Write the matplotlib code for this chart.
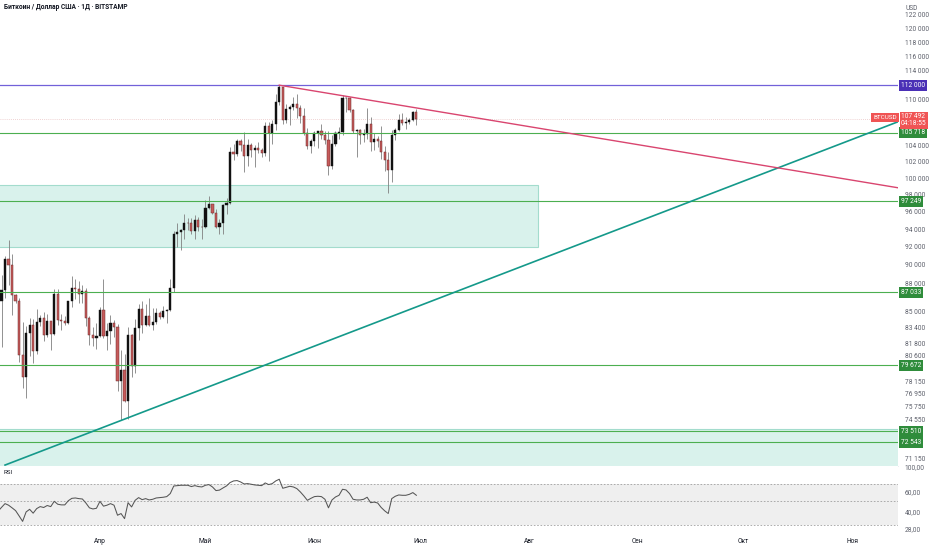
import numpy as np
import pandas as pd
import matplotlib
matplotlib.use("Agg")
import matplotlib.pyplot as plt
import matplotlib.dates as mdates
from matplotlib.ticker import FixedLocator, FuncFormatter, NullLocator
from matplotlib.transforms import blended_transform_factory
from matplotlib.patches import Rectangle

plt.rcParams['font.family'] = ['Roboto', 'DejaVu Sans']

# daily candles, BITSTAMP BTCUSD, 3 Mar .. 30 Jun
dates = pd.date_range('2025-03-03', '2025-06-30', freq='D')

closes = [
    86100, 87250, 90600, 89950, 86750, 86150, 80700, 78550, 82900, 83700,
    81100, 83950, 84350, 82600, 84050, 82700, 86850, 84200, 84050, 83850,
    86100, 87500, 87450, 86900, 87200, 84350, 82600, 82350, 82550,
    85150, 82500, 83100, 83850, 83500, 78200, 79200, 76300, 82600, 79600,
    83400, 85300, 83700, 84550, 83650, 84000, 84900, 84450, 85050, 85150,
    87500, 93450, 93700, 93950, 94700, 94650, 93750, 95000, 94250, 94200,
    96500, 96900, 95900, 94300, 94750, 96850, 97050, 103250, 102950, 104650,
    104100, 102800, 104150, 103550, 103750, 103500, 103150, 106500, 105650, 106850,
    109650, 111700, 107300, 108850, 109000, 109450, 108950, 107800, 105650, 103950,
    104600,
    105700, 105850, 105400, 104700, 101550, 104300, 105650, 105750, 110250, 110300,
    108650, 105950, 106100, 105450, 105550, 106800, 104550, 104850, 104650, 103300,
    102200, 100950, 105400, 106000, 107350, 106950, 107100, 107300, 108350, 107492,
]
opens = [94250] + closes[:-1]
highs = [
    94400, 88900, 91000, 92800, 91200, 86850, 86500, 84000, 83600, 84350,
    84300, 85300, 84650, 85000, 84750, 84050, 87450, 87450, 84800, 84550,
    86100, 88750, 88500, 88300, 87800, 87500, 84600, 83500, 83900,
    85500, 88500, 83900, 84700, 84200, 83800, 81200, 80800, 83500, 82700,
    84250, 85800, 86100, 85800, 86450, 85450, 85450, 85100, 85600, 85300,
    88450, 93800, 94700, 94000, 95750, 95300, 95300, 95600, 95450, 95200,
    97400, 97900, 96900, 96300, 95200, 96900, 97600, 103900, 104300, 104950,
    104950, 105800, 104950, 104350, 104150, 104550, 103700, 107100, 107100, 107300,
    110800, 111950, 111800, 109500, 109300, 110400, 110750, 109300, 108900, 106300,
    104900,
    105850, 105950, 106800, 105950, 105900, 105400, 105900, 106450, 110600, 110400,
    110400, 108850, 106200, 106200, 106150, 108950, 107700, 105600, 105300, 106500,
    104000, 103300, 106100, 106250, 108100, 108250, 107700, 107550, 108500, 108800,
]
lows = [
    85100, 81500, 86400, 87800, 84700, 85900, 80000, 77500, 76600, 80600,
    79900, 80800, 83600, 82000, 82450, 81150, 82650, 83650, 83200, 83650,
    83800, 85550, 86350, 85900, 85900, 83600, 81650, 81550, 81300,
    82450, 82300, 81200, 81700, 82400, 77200, 74500, 76200, 74650, 78500,
    78950, 82100, 82900, 83600, 83600, 83150, 83800, 84300, 84400, 83900,
    85100, 87100, 91950, 91700, 92900, 93900, 93500, 92900, 93750, 92900,
    94100, 96300, 95750, 94100, 93500, 93400, 95800, 96900, 102300, 102800,
    103400, 100800, 101450, 102650, 101400, 103100, 102600, 102700, 102100, 104200,
    106100, 109300, 106850, 106950, 106650, 108700, 107600, 106900, 105400, 103650,
    103150,
    103950, 103750, 104950, 104200, 100400, 101150, 103950, 104950, 105350, 108350,
    108400, 105650, 102650, 104300, 104500, 104950, 103400, 103550, 103900, 102350,
    100900, 98200, 99600, 104700, 105950, 106700, 106200, 106850, 107250, 106750,
]
rsi = [
    40.0, 43.4, 46.9, 45.4, 43.0, 40.6, 36.4, 32.5, 39.5, 41.7,
    38.5, 42.3, 44.1, 43.3, 45.1, 44.1, 49.2, 46.3, 45.7, 45.7,
    49.8, 52.3, 52.7, 52.0, 51.6, 47.5, 43.0, 42.0, 42.6,
    49.2, 44.5, 45.4, 46.9, 45.4, 36.9, 38.2, 34.4, 47.8, 43.8,
    50.2, 53.1, 50.9, 52.0, 50.6, 51.3, 52.7, 53.1, 53.5, 54.2,
    57.7, 67.5, 68.0, 68.5, 68.5, 68.5, 66.7, 68.0, 66.7, 66.2,
    68.5, 69.5, 66.2, 61.4, 62.0, 64.8, 67.6, 72.4, 74.9, 75.5,
    73.4, 70.4, 70.9, 70.0, 69.0, 68.5, 68.0, 71.9, 69.5, 70.9,
    74.9, 77.6, 64.4, 65.7, 67.1, 66.2, 64.0, 59.7, 55.0, 50.2,
    52.3,
    54.2, 54.6, 54.2, 51.3, 43.0, 50.6, 53.8, 55.7, 63.1, 62.2,
    57.7, 51.3, 50.6, 50.6, 51.3, 53.5, 47.8, 48.4, 47.5, 43.3,
    40.4, 38.2, 52.0, 54.6, 56.1, 55.7, 55.7, 56.8, 58.9, 55.7,
]

# horizontal levels
green_levels = [105718, 97249, 87033, 79672, 73510, 72543]
purple_level = 112000
last_price = 107492
timer_text = '04:18:55'

price_ticks = [122000, 120000, 118000, 116000, 114000, 110000, 104000,
               102000, 100000, 98000, 96000, 94000, 92000, 90000, 88000,
               85000, 83400, 81800, 80600, 78150, 76950, 75750, 74550, 71150]
rsi_ticks = [100, 60, 40, 28]
rsi_tick_labels = ['100,00', '60,00', '40,00', '28,00']
month_dates = ['2025-04-01', '2025-05-01', '2025-06-01', '2025-07-01',
               '2025-08-01', '2025-09-01', '2025-10-01', '2025-11-01']
month_labels = ['Апр', 'Май', 'Июн', 'Июл', 'Авг', 'Сен', 'Окт', 'Ноя']

# trend lines: (date, price) anchors
teal_line = (['2025-03-05', '2025-11-14'], [70560, 107110])
pink_line = (['2025-05-22', '2025-11-14'], [111980, 98850])
# zones: (start, end, low, high)
zone_upper = ('2025-03-01', '2025-08-03 15:00', 91980, 99180)
zone_lower = ('2025-03-01', '2025-11-20', 68000, 73710)

x = mdates.date2num(dates)
base = mdates.date2num(np.datetime64('2025-03-04'))

fig = plt.figure(figsize=(9.32, 5.5), dpi=100)
ax = fig.add_axes([0, 84 / 550, 898 / 932, 466 / 550])
axr = fig.add_axes([0, 18 / 550, 898 / 932, 66 / 550], sharex=ax)

ax.set_yscale('log')
ax.set_ylim(70480, 124200)
ax.set_xlim(base - 0.43, base + 255.0)

# zones
for z in (zone_upper, zone_lower):
    x0 = mdates.date2num(np.datetime64(z[0]))
    x1 = mdates.date2num(np.datetime64(z[1]))
    ax.add_patch(Rectangle((x0, z[2]), x1 - x0, z[3] - z[2], fc='#d9f2ec',
                           ec='#a3dccd', lw=0.8, zorder=1))

# candles
o = np.array(opens, float)
c = np.array(closes, float)
h = np.array(highs, float)
l = np.array(lows, float)
up = c >= o
ax.vlines(x, l, h, color='#808080', lw=0.6, zorder=3)
ax.bar(x[up], c[up] - o[up], bottom=o[up], width=0.62, color='#111111',
       edgecolor='#111111', lw=0.3, zorder=4)
ax.bar(x[~up], o[~up] - c[~up], bottom=c[~up], width=0.62, color='#c65b5b',
       edgecolor='#6e2c2c', lw=0.35, zorder=4)

# lines
ax.axhline(last_price, color='#eac4c4', lw=0.6, ls=(0, (1, 1.5)), zorder=2)
for lv in green_levels:
    ax.axhline(lv, color='#4caf50', lw=0.8, zorder=5)
ax.axhline(purple_level, color='#7261d9', lw=0.9, zorder=5)
ax.plot(mdates.date2num(np.array(teal_line[0], dtype='datetime64[D]')), teal_line[1],
        color='#14998a', lw=1.2, zorder=6)
ax.plot(mdates.date2num(np.array(pink_line[0], dtype='datetime64[D]')), pink_line[1],
        color='#d9456f', lw=1.0, zorder=6)

# price scale
ax.yaxis.tick_right()
ax.yaxis.set_major_locator(FixedLocator(price_ticks))
ax.yaxis.set_minor_locator(NullLocator())
ax.yaxis.set_major_formatter(FuncFormatter(lambda v, p: f'{v:,.0f}'.replace(',', ' ')))
ax.tick_params(axis='y', length=0, pad=5, labelsize=4.8, labelcolor='#5d606b')
ax.tick_params(axis='x', length=0, labelbottom=False)
for s in ['top', 'left', 'right']:
    ax.spines[s].set_visible(False)
ax.spines['bottom'].set_color('#e6e8ee')
ax.spines['bottom'].set_linewidth(0.6)

tr = blended_transform_factory(ax.transAxes, ax.transData)
box_x = 1.0 + 3 / 898


def scale_label(val, text, color):
    ax.text(box_x, val, text, transform=tr, ha='left', va='center', fontsize=4.8,
            color='white', clip_on=False, zorder=10,
            bbox=dict(boxstyle='square,pad=0.3', fc=color, ec='none'))


scale_label(purple_level, '112 000', '#4a30b6')
for lv in green_levels:
    scale_label(lv, f'{lv:,}'.replace(',', ' '), '#2f8c3b')
ax.text(box_x, 107300, f'{last_price:,}'.replace(',', ' ') + '\n' + timer_text,
        transform=tr, ha='left', va='center', fontsize=4.8, color='white',
        linespacing=1.0, clip_on=False, zorder=11,
        bbox=dict(boxstyle='square,pad=0.22', fc='#f05454', ec='none'))
ax.text(1.0 - 1 / 898, 107650, 'BTCUSD', transform=tr, ha='right', va='center',
        fontsize=4.6, color='white', clip_on=False, zorder=11,
        bbox=dict(boxstyle='square,pad=0.3', fc='#f05454', ec='none'))

# RSI pane
axr.set_yscale('log')
axr.set_ylim(26.1, 102)
axr.axhspan(30, 70, color='#efefef', zorder=1, lw=0)
for lv in (70, 50, 30):
    axr.axhline(lv, color='#a0a0a0', lw=0.6, ls=(0, (2, 2)), zorder=2)
axr.plot(x, rsi, color='#555555', lw=0.75, zorder=3)
axr.yaxis.tick_right()
axr.yaxis.set_major_locator(FixedLocator(rsi_ticks))
axr.yaxis.set_minor_locator(NullLocator())
axr.set_yticklabels(rsi_tick_labels)
axr.tick_params(axis='y', length=0, pad=5, labelsize=4.8, labelcolor='#5d606b')
axr.set_xticks(mdates.date2num(np.array(month_dates, dtype='datetime64[D]')))
axr.set_xticklabels(month_labels)
axr.xaxis.set_minor_locator(NullLocator())
axr.tick_params(axis='x', length=0, pad=4, labelsize=4.8, labelcolor='#131722')
for s in axr.spines.values():
    s.set_visible(False)

fig.text(4 / 932, 1 - 7 / 550, 'Биткоин / Доллар США · 1Д · BITSTAMP', fontsize=4.8,
         weight='bold', va='center', ha='left', color='#131722')
fig.text(905 / 932, 1 - 8 / 550, 'USD', fontsize=4.8, va='center', color='#5d606b')
fig.text(4 / 932, 1 - 472 / 550, 'RSI', fontsize=4.5, va='center', color='#131722')

fig.savefig('out.png', dpi=100, facecolor='white')
